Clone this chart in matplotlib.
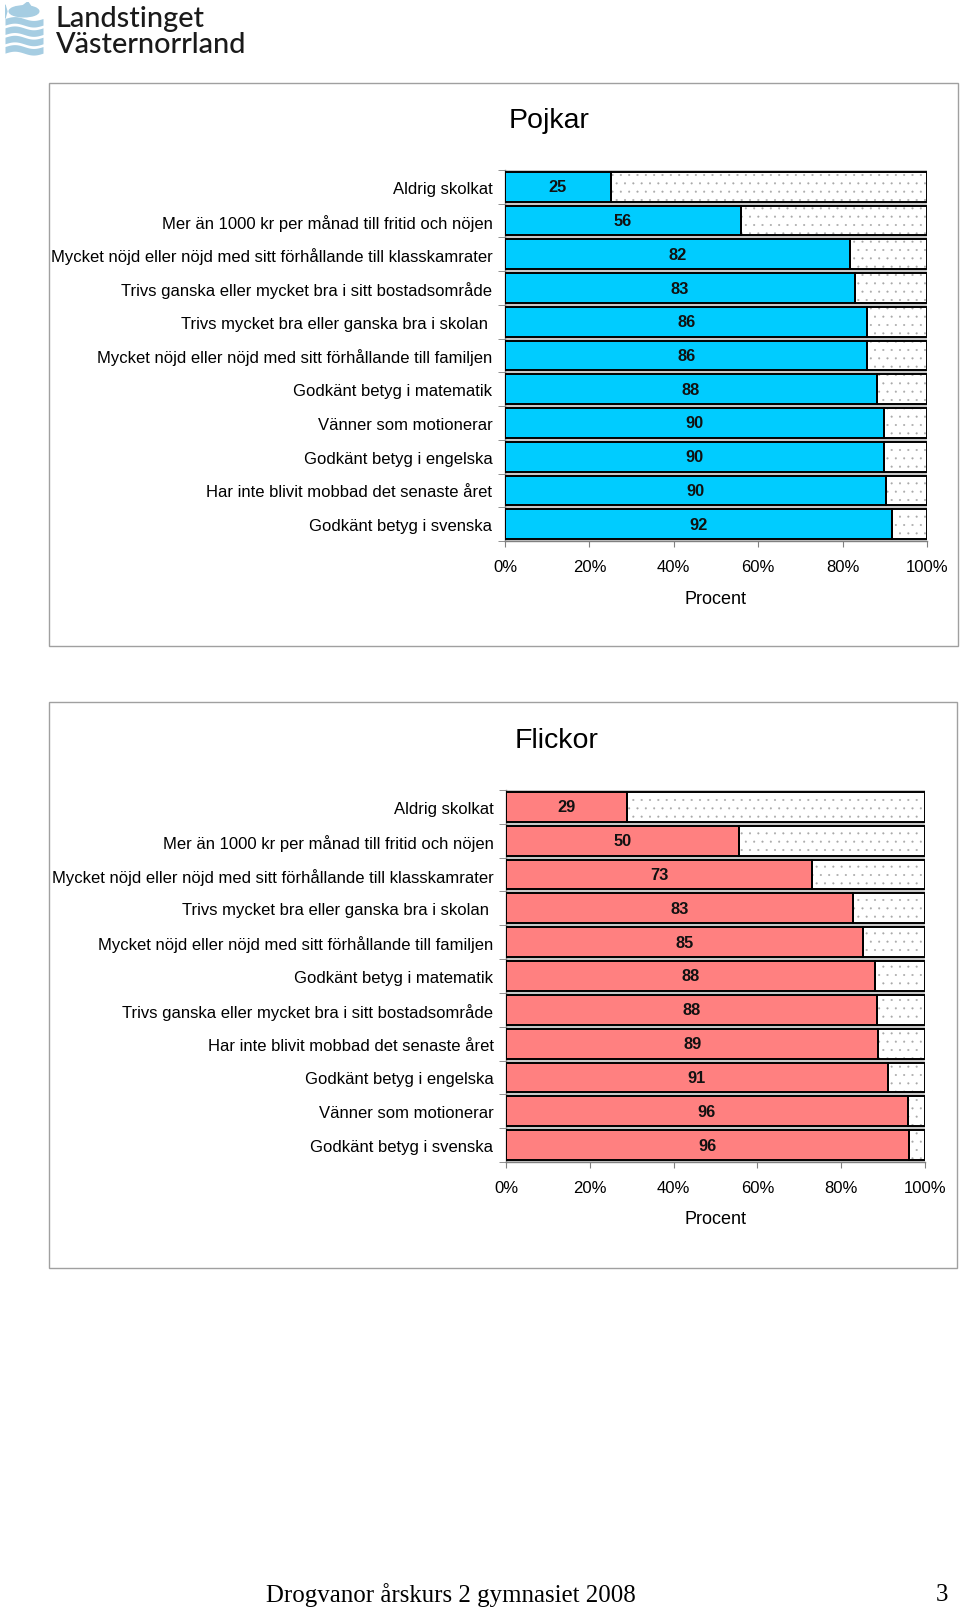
"""Pojkar / Flickor - andel som svarat ja, 100 % staplade liggande staplar."""
import numpy as np
import matplotlib
matplotlib.use("Agg")
import matplotlib.pyplot as plt
from matplotlib.patches import Rectangle, Ellipse, Polygon

W, H = 960, 1608
BLUE = "#00ccff"
RED = "#ff8080"
FRAME = "#a0a0a0"
AXC = "#808080"
LOGO = "#a6cde2"

plt.rcParams.update({
    "font.family": ["Liberation Sans", "DejaVu Sans"],
    "hatch.linewidth": 0.25,
})

# --- data -------------------------------------------------------------
pojkar_kat = [
    "Aldrig skolkat",
    "Mer än 1000 kr per månad till fritid och nöjen",
    "Mycket nöjd eller nöjd med sitt förhållande till klasskamrater",
    "Trivs ganska eller mycket bra i sitt bostadsområde",
    "Trivs mycket bra eller ganska bra i skolan ",
    "Mycket nöjd eller nöjd med sitt förhållande till familjen",
    "Godkänt betyg i matematik",
    "Vänner som motionerar",
    "Godkänt betyg i engelska",
    "Har inte blivit mobbad det senaste året",
    "Godkänt betyg i svenska",
]
pojkar_ja = [25.1, 55.9, 81.8, 82.9, 85.9, 85.9, 88.1, 89.9, 89.9, 90.3, 91.8]
pojkar_nej = [74.9, 44.1, 18.2, 17.1, 14.1, 14.1, 11.9, 10.1, 10.1, 9.7, 8.2]

flickor_kat = [
    "Aldrig skolkat",
    "Mer än 1000 kr per månad till fritid och nöjen",
    "Mycket nöjd eller nöjd med sitt förhållande till klasskamrater",
    "Trivs mycket bra eller ganska bra i skolan ",
    "Mycket nöjd eller nöjd med sitt förhållande till familjen",
    "Godkänt betyg i matematik",
    "Trivs ganska eller mycket bra i sitt bostadsområde",
    "Har inte blivit mobbad det senaste året",
    "Godkänt betyg i engelska",
    "Vänner som motionerar",
    "Godkänt betyg i svenska",
]
flickor_ja = [28.9, 50.0, 73.1, 82.9, 85.1, 88.1, 88.5, 88.9, 91.1, 95.9, 96.2]
flickor_nej = [71.1, 40.0, 26.9, 17.1, 14.9, 11.9, 11.5, 11.1, 8.9, 4.1, 3.8]

x_ticks = [0, 20, 40, 60, 80, 100]


def fig_box(x0, y0, x1, y1):
    """pixelruta (uppifrån) -> figurkoordinater [l, b, w, h]"""
    return [x0 / W, 1 - y1 / H, (x1 - x0) / W, (y1 - y0) / H]


def panel(fig, rect, kat, ja, nej, farg):
    ax = fig.add_axes(fig_box(*rect))
    ja = np.array(ja)
    nej = np.array(nej)
    tot = ja + nej
    andel_ja = ja / tot * 100
    andel_nej = nej / tot * 100
    y = np.arange(len(kat))
    h = 0.88
    ax.set_facecolor("#c8c8c8")
    ax.barh(y, andel_ja, height=h, color=farg, edgecolor="black", lw=1.4, zorder=3)
    ax.barh(y, andel_nej, left=andel_ja, height=h, color="white", hatch="..",
            edgecolor="#a8a8a8", lw=0, zorder=2)
    ax.barh(y, andel_nej, left=andel_ja, height=h, fill=False,
            edgecolor="black", lw=1.4, zorder=3)
    for yi, a, v in zip(y, andel_ja, ja):
        ax.text(a / 2, yi, f"{round(v)}", ha="center", va="center",
                fontsize=11.8, fontweight="bold", color="#111111", zorder=4)
    ax.set_xlim(0, 100)
    ax.set_ylim(len(kat) - 0.5, -0.5)
    ax.set_yticks(y)
    ax.set_yticklabels(kat, fontsize=11.95)
    ax.set_yticks(np.arange(len(kat) + 1) - 0.5, minor=True)
    ax.tick_params(axis="y", which="major", length=0, pad=9)
    ax.tick_params(axis="y", which="minor", length=5, color=AXC, direction="out")
    ax.set_xticks(x_ticks)
    ax.set_xticklabels([f"{t}%" for t in x_ticks], fontsize=12)
    ax.tick_params(axis="x", length=4, color=AXC, direction="out", pad=9)
    for s in ("top", "right"):
        ax.spines[s].set_visible(False)
    for s in ("left", "bottom"):
        ax.spines[s].set_color(AXC)
        ax.spines[s].set_linewidth(1.0)
    return ax


def frame(fig, x0, y0, x1, y1):
    l, b, w, hh = fig_box(x0, y0, x1, y1)
    fig.patches.append(Rectangle((l, b), w, hh, transform=fig.transFigure,
                                 fill=False, edgecolor=FRAME, lw=1.0))


def logo(fig):
    ax = fig.add_axes(fig_box(5, 3, 43, 58))
    ax.set_xlim(0, 1)
    ax.set_ylim(0, 1)
    ax.axis("off")
    # fisk
    ax.add_patch(Ellipse((0.5, 0.83), 0.78, 0.2, color=LOGO))
    ax.add_patch(Polygon([[0.05, 0.83], [0.0, 0.95], [0.0, 0.7]], color=LOGO))
    ax.add_patch(Polygon([[0.45, 0.92], [0.6, 1.0], [0.68, 0.92]], color=LOGO))
    # vågor
    xx = np.linspace(0, 1, 100)
    for base in (0.58, 0.41, 0.24, 0.07):
        top = base + 0.12 + 0.035 * np.sin(xx * 2 * np.pi)
        ax.fill_between(xx, base + 0.035 * np.sin(xx * 2 * np.pi), top, color=LOGO, lw=0)
    for txt, yy in (("Landstinget", 19), ("Västernorrland", 45)):
        fig.text(56 / W, 1 - yy / H, txt, fontsize=20.8, family=["Lato", "DejaVu Sans"],
                 fontweight="medium", color="#1a1a1a", va="center", ha="left")


fig = plt.figure(figsize=(W / 100, H / 100), dpi=100, facecolor="white")
logo(fig)

frame(fig, 49, 84, 958, 647)
panel(fig, (505, 171, 927, 542), pojkar_kat, pojkar_ja, pojkar_nej, BLUE)
fig.text(549 / W, 1 - 121 / H, "Pojkar", fontsize=20.5, ha="center", va="center")
fig.text(716 / W, 1 - 600 / H, "Procent", fontsize=13, ha="center", va="center")

frame(fig, 49, 703, 957, 1269)
panel(fig, (506, 791, 925, 1163), flickor_kat, flickor_ja, flickor_nej, RED)
fig.text(557 / W, 1 - 741 / H, "Flickor", fontsize=20.5, ha="center", va="center")
fig.text(715 / W, 1 - 1220 / H, "Procent", fontsize=13, ha="center", va="center")

fig.text(266 / W, 1 - 1595 / H, "Drogvanor årskurs 2 gymnasiet 2008",
         family=["Liberation Serif", "DejaVu Serif"], fontsize=17.9, ha="left", va="center")
fig.text(948 / W, 1 - 1595 / H, "3", family=["Liberation Serif", "DejaVu Serif"],
         fontsize=17.9, ha="right", va="center")

fig.savefig("out.png", dpi=100)
